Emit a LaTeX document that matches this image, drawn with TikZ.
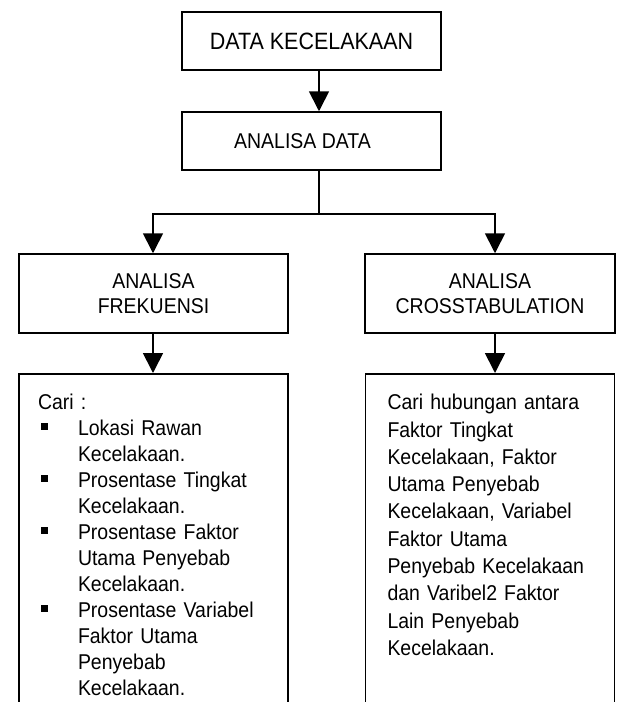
\documentclass[tikz,border=0pt]{standalone}
\usepackage{fontspec}
\setmainfont{Liberation Sans}[FakeStretch=0.91]
\usetikzlibrary{arrows.meta}
\newcommand\titik{\makebox[40pt][l]{\hspace{3pt}\rule[5.5pt]{7pt}{7pt}}}
\newcommand\masuk{\hspace*{40pt}}
\begin{document}
\begin{tikzpicture}[x=1pt,y=-1pt]
	\tikzset{
	  kotak/.style={draw,line width=1.5pt,inner sep=0pt,align=center,
		font=\fontsize{21.4}{25}\selectfont},
	  isi/.style={draw,line width=1.5pt,anchor=north,align=left,
		text height=20pt,text depth=340pt,inner ysep=16pt},
	  panah/.style={line width=1.7pt,-{Triangle[width=20pt,length=20pt]}},
	}

        \useasboundingbox (0,0) rectangle (618,702);
        \clip (0,0) rectangle (618,702);

        %BOX ATAS
        \node[kotak,minimum width=259pt,minimum height=58pt,
          font=\fontsize{23.6}{26}\selectfont] (data) at (311.5,41) {DATA KECELAKAAN};
        \node[kotak,minimum width=259pt,minimum height=58pt] (analisa) at (311.5,141)
          {ANALISA DATA\hspace*{18pt}};

        %BOX TENGAH
        \node[kotak,minimum width=269pt,minimum height=79pt] (frek) at (153.5,293.5)
          {ANALISA\\FREKUENSI};
        \node[kotak,minimum width=250pt,minimum height=79pt] (cross) at (490,293.5)
          {ANALISA\\CROSSTABULATION};

        %BOX BAWAH
        \node[isi,text width=231pt,inner xsep=19pt,
          font=\fontsize{21.4}{26}\selectfont] (cari) at (153.5,373) {%
          Cari :\\
          \titik Lokasi Rawan\\
          \masuk Kecelakaan.\\
          \titik Prosentase Tingkat\\
          \masuk Kecelakaan.\\
          \titik Prosentase Faktor\\
          \masuk Utama Penyebab\\
          \masuk Kecelakaan.\\
          \titik Prosentase Variabel\\
          \masuk Faktor Utama\\
          \masuk Penyebab\\
          \masuk Kecelakaan.};
        \node[isi,text width=205pt,inner xsep=22pt,
          font=\fontsize{21.4}{27.3}\selectfont] (hub) at (490,373) {%
          Cari hubungan antara\\
          Faktor Tingkat\\
          Kecelakaan, Faktor\\
          Utama Penyebab\\
          Kecelakaan, Variabel\\
          Faktor Utama\\
          Penyebab Kecelakaan\\
          dan Varibel2 Faktor\\
          Lain Penyebab\\
          Kecelakaan.};

        %PANAH
        \draw[panah] ([xshift=7.5pt]data.south) -- ([xshift=7.5pt]analisa.north);
        \draw[line width=1.7pt] ([xshift=7.5pt]analisa.south) -- ++(0,43) coordinate (cabang);
        \draw[panah] (cabang) -| ([xshift=-0.5pt]frek.north);
        \draw[panah] (cabang) -| ([xshift=5pt]cross.north);
        \draw[panah] ([xshift=-0.5pt]frek.south) -- ([xshift=-0.5pt]cari.north);
        \draw[panah] ([xshift=5pt]cross.south) -- ([xshift=5pt]hub.north);
    \end{tikzpicture}
\end{document}
